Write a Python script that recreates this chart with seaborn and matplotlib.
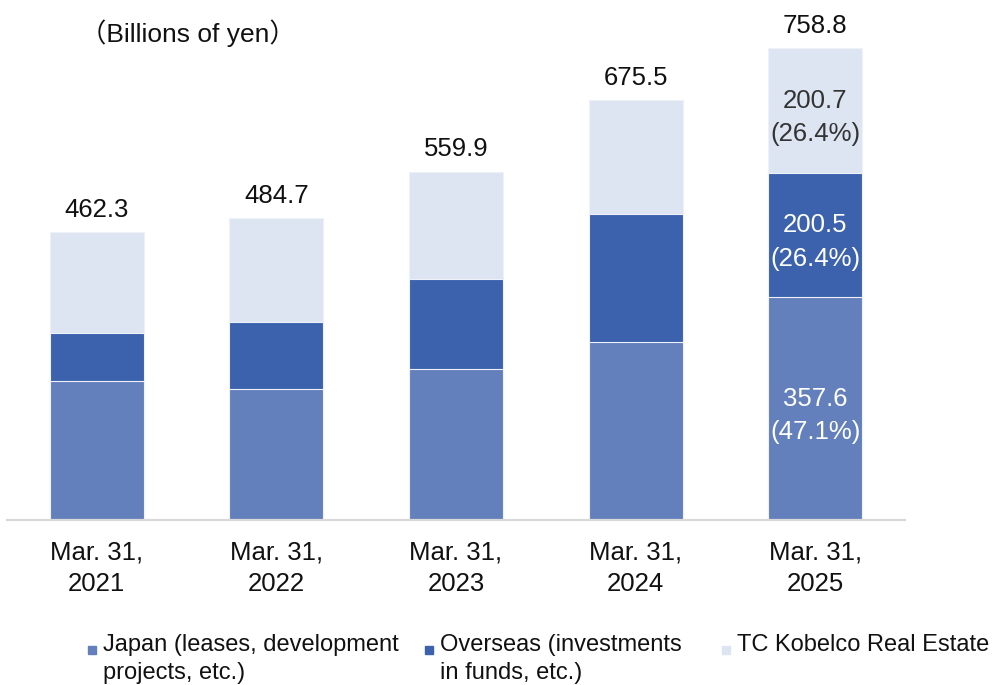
import numpy as np
import pandas as pd
import matplotlib.pyplot as plt
from matplotlib.patches import Rectangle
import seaborn as sns

sns.set_theme(style="white")
plt.rcParams["font.family"] = ["Liberation Sans", "Noto Sans CJK JP", "DejaVu Sans"]

YEARS = ["Mar. 31,\n2021", "Mar. 31,\n2022", "Mar. 31,\n2023", "Mar. 31,\n2024", "Mar. 31,\n2025"]
JAPAN = [223.0, 210.0, 241.8, 285.7, 357.6]
OVERSEAS = [76.8, 108.3, 145.8, 205.5, 200.5]
TC_KOBELCO = [162.5, 166.4, 172.3, 184.3, 200.7]
TOTALS = ["462.3", "484.7", "559.9", "675.5", "758.8"]
LAST_PCT = ["47.1%", "26.4%", "26.4%"]
SERIES = ["Japan (leases, development\nprojects, etc.)",
          "Overseas (investments\nin funds, etc.)",
          "TC Kobelco Real Estate"]
COLORS = ["#6480BC", "#3C62AD", "#DCE5F1"]

df = pd.DataFrame({"year": YEARS, "japan": JAPAN, "overseas": OVERSEAS, "tc": TC_KOBELCO})
df["lvl2"] = df["japan"] + df["overseas"]
df["lvl3"] = df["lvl2"] + df["tc"]

fig = plt.figure(figsize=(9.95, 6.85), dpi=100)
ax = fig.add_axes([0.007, 0.2416, 0.9025, 0.7255])

# stacked look: draw cumulative heights from the top layer down
for col, color in zip(["lvl3", "lvl2", "japan"], COLORS[::-1]):
    sns.barplot(data=df, x="year", y=col, color=color, width=0.524, ax=ax,
                saturation=1, edgecolor="#EEF2F8", linewidth=0.8)

ax.set_xlim(-0.5, 4.5)
ax.set_ylim(0, 800)
ax.set_xlabel("")
ax.set_ylabel("")
ax.set_yticks([])
for s in ["top", "right", "left"]:
    ax.spines[s].set_visible(False)
ax.spines["bottom"].set_color("#D9D9D9")
ax.spines["bottom"].set_linewidth(1.6)
ax.tick_params(axis="x", length=0, pad=15, labelsize=18.5)
for t in ax.get_xticklabels():
    t.set_linespacing(1.38)
    t.set_color("#111111")

for i, tot in enumerate(TOTALS):
    ax.annotate(tot, (i, df["lvl3"][i]), xytext=(0, 11), textcoords="offset points",
                ha="center", va="baseline", fontsize=18.5, color="#111111")

# value + share labels inside the last bar
last = len(YEARS) - 1
segs = [(0, JAPAN[last]), (JAPAN[last], OVERSEAS[last]),
        (JAPAN[last] + OVERSEAS[last], TC_KOBELCO[last])]
for (b, h), pct, c in zip(segs, LAST_PCT, ["white", "white", "#333333"]):
    ax.annotate(f"{h:.1f}\n({pct})", (last, b + h / 2), xytext=(0, -5),
                textcoords="offset points", ha="center", va="center",
                fontsize=18.5, color=c, linespacing=1.5)

fig.text(80 / 995, 1 - 33 / 685, "（Billions of yen）", fontsize=19,
         ha="left", va="center", color="#111111")

# legend
for x0, lab, color in zip([88, 425, 722], SERIES, COLORS):
    fig.patches.append(Rectangle((x0 / 995, 1 - 654 / 685), 8 / 995, 8 / 685,
                                 transform=fig.transFigure, color=color))
    fig.text((x0 + 15) / 995, 1 - 634 / 685, lab, fontsize=17, ha="left", va="top",
             linespacing=1.33, color="#111111")

fig.savefig("out.png", dpi=100)
